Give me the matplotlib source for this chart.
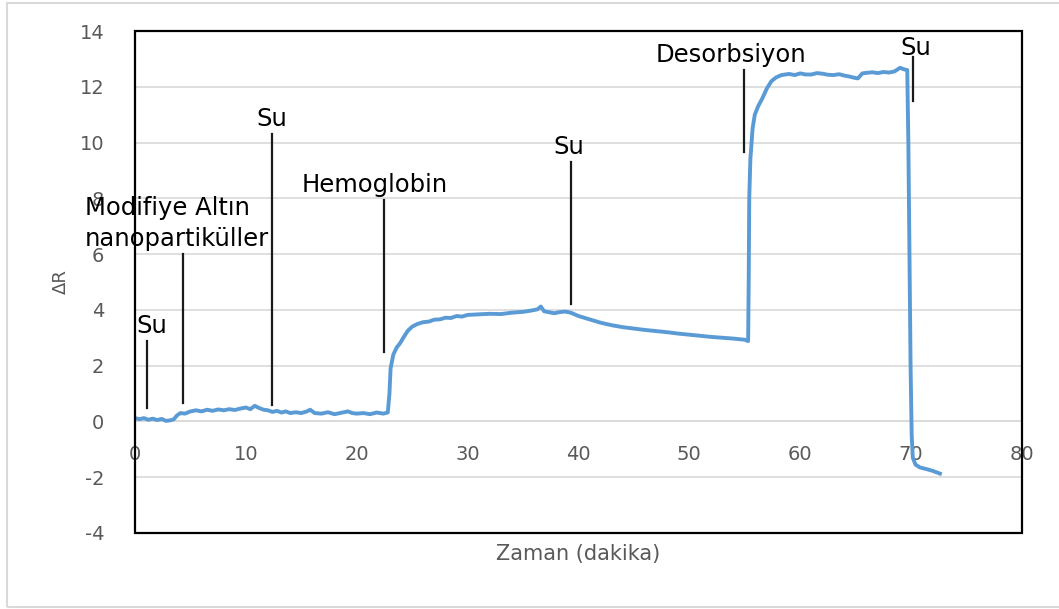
import matplotlib
matplotlib.use("Agg")
import matplotlib.pyplot as plt
from matplotlib.patches import Rectangle

plt.rcParams["axes.unicode_minus"] = False

# ---- data ----
time_min = [0.0, 0.4, 0.8, 1.2, 1.6, 2.0, 2.4, 2.8, 3.2, 3.5, 3.8, 4.1, 4.5, 5.0, 5.5, 6.0,
            6.5, 7.0, 7.5, 8.0, 8.5, 9.0, 9.5, 10.0, 10.4, 10.8, 11.2, 11.6, 12.0, 12.4,
            12.8, 13.2, 13.6, 14.0, 14.5, 15.0, 15.5, 15.8, 16.2, 16.8, 17.4, 18.0, 18.6,
            19.2, 19.6, 20.0, 20.6, 21.2, 21.8, 22.4, 22.8, 22.95, 23.05, 23.3, 23.6, 23.9,
            24.2, 24.6, 25.0, 25.5, 26.0, 26.5, 27.0, 27.5, 28.0, 28.5, 29.0, 29.5, 30.0,
            31.0, 32.0, 33.0, 34.0, 35.0, 35.8, 36.3, 36.6, 36.9, 37.3, 37.8, 38.3, 38.8,
            39.3, 40.0, 41.0, 42.0, 43.0, 44.0, 45.0, 46.0, 47.0, 48.0, 49.0, 50.0, 51.0,
            52.0, 53.0, 54.0, 55.0, 55.3, 55.35, 55.4, 55.5, 55.7, 55.9, 56.2, 56.6, 57.0,
            57.4, 57.8, 58.3, 59.0, 59.5, 60.0, 60.5, 61.0, 61.5, 62.0, 62.5, 63.0, 63.5,
            64.0, 64.4, 64.8, 65.2, 65.6, 66.0, 66.5, 67.0, 67.5, 68.0, 68.5, 69.0, 69.4,
            69.65, 69.75, 69.85, 69.95, 70.05, 70.15, 70.4, 70.8, 71.5, 72.0, 72.6]
delta_r = [0.12, 0.08, 0.12, 0.06, 0.10, 0.05, 0.09, 0.02, 0.04, 0.08, 0.22, 0.30, 0.28,
           0.36, 0.40, 0.36, 0.42, 0.38, 0.43, 0.40, 0.44, 0.41, 0.46, 0.50, 0.44, 0.56,
           0.48, 0.42, 0.40, 0.34, 0.38, 0.32, 0.36, 0.30, 0.33, 0.30, 0.36, 0.42, 0.30,
           0.28, 0.33, 0.26, 0.31, 0.36, 0.30, 0.28, 0.30, 0.26, 0.32, 0.28, 0.32, 1.0,
           1.9, 2.4, 2.65, 2.8, 3.0, 3.25, 3.40, 3.50, 3.56, 3.58, 3.65, 3.66, 3.72, 3.71,
           3.78, 3.76, 3.82, 3.84, 3.86, 3.85, 3.90, 3.93, 3.98, 4.02, 4.12, 3.95, 3.92,
           3.88, 3.92, 3.94, 3.90, 3.78, 3.66, 3.54, 3.45, 3.38, 3.33, 3.28, 3.24, 3.20,
           3.15, 3.11, 3.07, 3.03, 3.00, 2.97, 2.93, 2.88, 5.0, 8.0, 9.4, 10.5, 11.0, 11.3,
           11.6, 11.95, 12.2, 12.33, 12.42, 12.46, 12.42, 12.48, 12.44, 12.44, 12.49,
           12.47, 12.43, 12.42, 12.45, 12.40, 12.37, 12.33, 12.30, 12.48, 12.50, 12.52,
           12.49, 12.53, 12.51, 12.55, 12.68, 12.62, 12.60, 10.0, 6.0, 2.0, -0.5, -1.3,
           -1.55, -1.65, -1.72, -1.78, -1.87]

event_labels = ["Su", "Modifiye Altın\nnanopartiküller", "Su", "Hemoglobin", "Su",
                "Desorbsiyon", "Su"]
event_times = [1.1, 4.3, 12.35, 22.5, 39.3, 54.9, 70.15]
event_line_top = [2.9, 6.0, 10.3, 7.95, 9.3, 12.6, 13.05]
event_line_bottom = [0.5, 0.65, 0.6, 2.5, 4.2, 9.65, 11.5]

x_ticks = [0, 10, 20, 30, 40, 50, 60, 70, 80]
y_ticks = [-4, -2, 0, 2, 4, 6, 8, 10, 12, 14]
x_label = "Zaman (dakika)"
y_label = "ΔR"

# ---- figure ----
fig = plt.figure(figsize=(10.59, 6.09), dpi=100)
fig.patches.append(Rectangle((7 / 1059, 2 / 609), 1.0, 604 / 609, transform=fig.transFigure,
                             fill=False, edgecolor="#D9D9D9", linewidth=1.5))
ax = fig.add_axes([135 / 1059, 1 - 533 / 609, (1022 - 135) / 1059, (533 - 31) / 609])

ax.set_xlim(0, 80)
ax.set_ylim(-4, 14)
ax.set_xticks(x_ticks)
ax.set_yticks(y_ticks)
ax.grid(axis="y", color="#D9D9D9", linewidth=1.2)
ax.set_axisbelow(True)

for s in ["top", "right", "left"]:
    ax.spines[s].set_visible(False)
ax.spines["bottom"].set_position(("data", 0))
ax.spines["bottom"].set_color("#D9D9D9")
ax.spines["bottom"].set_linewidth(1.2)
ax.add_patch(Rectangle((0, 0), 1, 1, transform=ax.transAxes, fill=False,
                       edgecolor="black", linewidth=1.6, clip_on=False, zorder=5))

ax.tick_params(axis="both", length=0, labelsize=14, labelcolor="#595959")
ax.tick_params(axis="x", pad=17)
ax.tick_params(axis="y", pad=22)

ax.plot(time_min, delta_r, color="#5B9BD5", linewidth=2.8, zorder=3)

ax.set_xlabel(x_label, fontsize=15, color="#595959")
ax.xaxis.set_label_coords(0.5, -0.022)
ax.set_ylabel(y_label, fontsize=13, color="#595959")
ax.yaxis.set_label_coords(-0.074, 0.5)

# annotations
text_pos = [("center", 1.5), ("left", -4.5), ("center", 12.35), ("left", 15.06),
            ("center", 39.1), ("left", 47.0), ("center", 70.4)]
for lab, t, top, bot, (ha, tx) in zip(event_labels, event_times, event_line_top,
                                      event_line_bottom, text_pos):
    ax.plot([t, t], [bot, top], color="#1a1a1a", linewidth=1.6, zorder=4)
    ty = top - 0.1 if lab == "Su" and t > 70 else top + 0.1
    ax.text(tx, ty, lab, ha=ha, va="bottom", fontsize=17.5, color="black",
            linespacing=1.4, clip_on=False, zorder=6)

fig.savefig("out.png", dpi=100)
